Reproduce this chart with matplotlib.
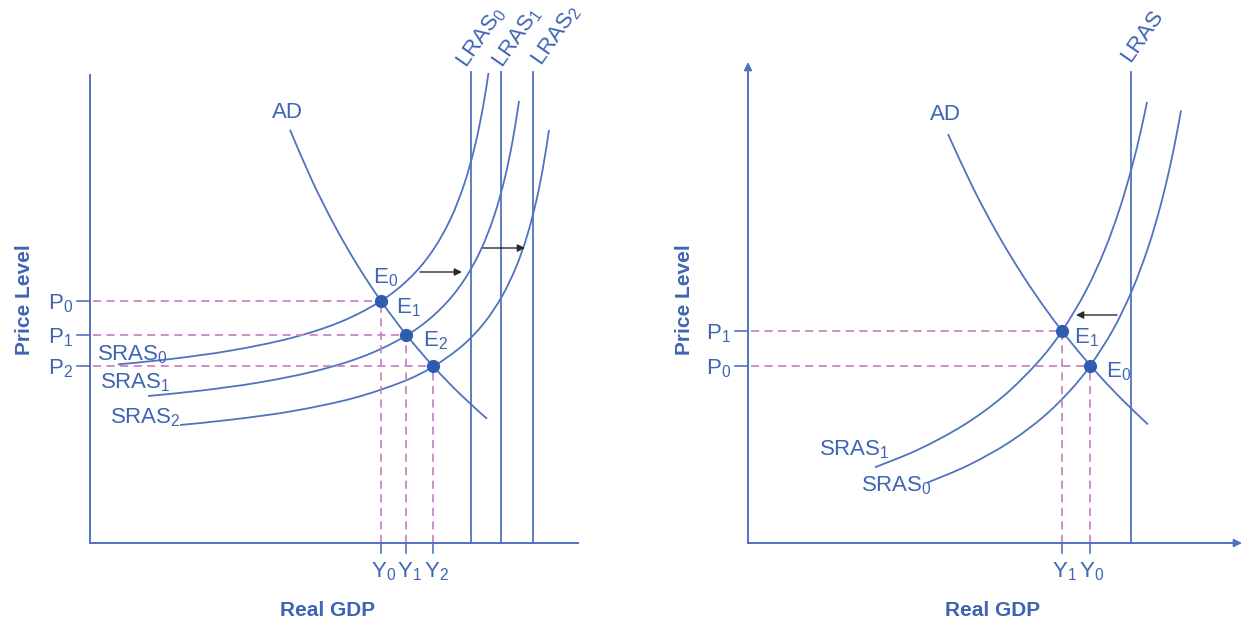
import numpy as np
import matplotlib
matplotlib.use("Agg")
import matplotlib.pyplot as plt
from matplotlib.path import Path
from matplotlib.patches import PathPatch

plt.rcParams['font.family'] = ['Liberation Sans', 'DejaVu Sans']
plt.rcParams['mathtext.fontset'] = 'custom'
plt.rcParams['mathtext.rm'] = 'Liberation Sans'
plt.rcParams['mathtext.it'] = 'Liberation Sans'
plt.rcParams['mathtext.bf'] = 'Liberation Sans:bold'

BLUE = '#5073c0'
TXT = '#3e64b4'
DOT = '#2e5cb0'
PINK = '#c888c4'
ARROW = '#2a2a2a'

# ---------------- Left panel data (units: Real GDP / Price Level) -------------
ad_l_x = [200, 222, 245, 268, 291, 316, 343, 370, 397]
ad_l_y = [413.2, 362.5, 316.7, 276.9, 242.0, 208.6, 176.9, 149.0, 124.2]
sras0_l_x = [28, 80, 140, 200, 250, 291, 320, 342, 360, 374, 385, 393, 398.5]
sras0_l_y = [178.6, 183.9, 192.3, 204.7, 220.9, 242.0, 265.2, 291.4, 322.9,
             358.2, 397.3, 436.0, 470.1]
sras1_l_x = [58, 110, 170, 230, 280, 321, 350, 372, 390, 404, 415, 423, 429]
sras1_l_y = [147.0, 152.3, 160.7, 173.1, 189.3, 210.4, 233.6, 259.8, 291.3,
             326.6, 365.7, 404.4, 442.0]
sras2_l_x = [90, 142, 202, 262, 312, 343, 372, 394, 412, 426, 437, 446, 453, 459]
sras2_l_y = [118.0, 123.4, 131.8, 144.5, 161.0, 176.3, 197.0, 219.9, 246.7,
             275.8, 306.9, 340.9, 375.3, 412.9]
lras_l_x = [381, 411, 443]
lras_l_labels = ['LRAS$_0$', 'LRAS$_1$', 'LRAS$_2$']
eq_l_x = [291, 316, 343]
eq_l_y = [242, 208, 177]
eq_l_labels = ['E$_0$', 'E$_1$', 'E$_2$']
p_l_labels = ['P$_0$', 'P$_1$', 'P$_2$']
y_l_labels = ['Y$_0$', 'Y$_1$', 'Y$_2$']
sras_l_labels = ['SRAS$_0$', 'SRAS$_1$', 'SRAS$_2$']

# ---------------- Right panel data -------------
ad_r_x = [200, 225, 250, 275, 300, 325, 350, 375, 400]
ad_r_y = [408.9, 355.2, 308.4, 267.2, 230.7, 198.2, 168.9, 142.5, 118.6]
sras1_r_x = [127, 170, 215, 255, 290, 314, 338, 357, 372, 384, 393, 399]
sras1_r_y = [75.7, 93.3, 117.5, 146.5, 181.0, 212.0, 252.3, 293.8, 335.3,
             376.2, 412.9, 441.0]
sras0_r_x = [179, 220, 260, 295, 322, 342, 365, 384, 400, 412, 421, 428, 433]
sras0_r_y = [60.2, 77.6, 99.9, 125.9, 152.3, 177.0, 213.2, 252.5, 295.1,
             335.4, 372.0, 405.4, 432.6]
lras_r_x = 383
eq_r_x = [314, 342]
eq_r_y = [212, 177.5]
eq_r_labels = ['E$_1$', 'E$_0$']
p_r_labels = ['P$_1$', 'P$_0$']
y_r_labels = ['Y$_1$', 'Y$_0$']
sras_r_labels = ['SRAS$_1$', 'SRAS$_0$']

FS = 16
FSB = 15


def smooth(ax, xs, ys, color=BLUE, lw=1.3):
    pts = np.column_stack([xs, ys]).astype(float)
    n = len(pts)
    verts = [pts[0]]
    codes = [Path.MOVETO]
    for i in range(n - 1):
        p0 = pts[i - 1] if i > 0 else pts[i]
        p1 = pts[i]
        p2 = pts[i + 1]
        p3 = pts[i + 2] if i + 2 < n else pts[i + 1]
        c1 = p1 + (p2 - p0) / 6.0
        c2 = p2 - (p3 - p1) / 6.0
        verts += [c1, c2, p2]
        codes += [Path.CURVE4] * 3
    ax.add_patch(PathPatch(Path(verts, codes), fill=False, edgecolor=color,
                           lw=lw, capstyle='butt'))


def equilibria(ax, xs, ys):
    for x, y in zip(xs, ys):
        ax.plot([3, x], [y, y], color=PINK, lw=1.3, ls=(0, (4.5, 3)), zorder=1)
        ax.plot([x, x], [0, y], color=PINK, lw=1.3, ls=(0, (4.5, 3)), zorder=1)
        ax.plot([-13, 0], [y, y], color=BLUE, lw=1.2, zorder=2)
        ax.plot([x, x], [-10, 0], color=BLUE, lw=1.2, zorder=2)
    ax.plot(xs, ys, 'o', color=DOT, ms=9.5, zorder=5, mec='none')


def arrow(ax, start, end, color=ARROW, lw=1.0, ms=11):
    ax.annotate('', xy=end, xytext=start,
                arrowprops=dict(arrowstyle='-|>', color=color, lw=lw,
                                mutation_scale=ms, shrinkA=0, shrinkB=0))


fig = plt.figure(figsize=(12.43, 6.21), dpi=100)
axL = fig.add_axes([0, 0, 640 / 1243, 1])
axR = fig.add_axes([640 / 1243, 0, 603 / 1243, 1])
axL.set_xlim(-90, 550)
axL.set_ylim(-78, 543)
axR.set_xlim(-108, 495)
axR.set_ylim(-78, 543)
for ax in (axL, axR):
    ax.axis('off')

# ---------- Left ----------
ax = axL
ax.plot([0, 0], [0, 468], color=BLUE, lw=1.4)
ax.plot([0, 488], [0, 0], color=BLUE, lw=1.4)
for x in lras_l_x:
    ax.plot([x, x], [0, 471], color=BLUE, lw=1.3)
smooth(ax, ad_l_x, ad_l_y)
smooth(ax, sras0_l_x, sras0_l_y)
smooth(ax, sras1_l_x, sras1_l_y)
smooth(ax, sras2_l_x, sras2_l_y)
equilibria(ax, eq_l_x, eq_l_y)

ax.text(197, 431, 'AD', color=TXT, fontsize=FS, ha='center', va='center')
for (x, y), lab in zip([(283, 265), (306, 235), (333, 202)], eq_l_labels):
    ax.text(x, y, lab, color=TXT, fontsize=FS, ha='left', va='center')
for y, lab in zip(eq_l_y, p_l_labels):
    ax.text(-17, y - 3, lab, color=TXT, fontsize=FS, ha='right', va='center')
for x, lab in zip(eq_l_x, y_l_labels):
    ax.text(x + 3, -29, lab, color=TXT, fontsize=FS, ha='center', va='center')
for (x, y), lab in zip([(7, 188), (10, 160), (20, 125)], sras_l_labels):
    ax.text(x, y, lab, color=TXT, fontsize=FS, ha='left', va='center')
for (x, y), lab in zip([(391, 505), (427, 505), (466, 507)], lras_l_labels):
    ax.text(x, y, lab, color=TXT, fontsize=FS, ha='center', va='center',
            rotation=55)
arrow(ax, (330, 271), (372, 271))
arrow(ax, (393, 295), (435, 295))
ax.text(-65, 243, 'Price Level', color=TXT, fontsize=FSB, fontweight='bold',
        rotation=90, ha='center', va='center')
ax.text(238, -67, 'Real GDP', color=TXT, fontsize=FSB, fontweight='bold',
        ha='center', va='center')

# ---------- Right ----------
ax = axR
ax.plot([0, 0], [0, 470], color=BLUE, lw=1.4)
ax.plot([0, 484], [0, 0], color=BLUE, lw=1.4)
arrow(ax, (0, 466), (0, 481), color=BLUE, lw=1.2, ms=12)
arrow(ax, (479, 0), (494, 0), color=BLUE, lw=1.2, ms=12)
ax.plot([lras_r_x, lras_r_x], [0, 471], color=BLUE, lw=1.3)
smooth(ax, ad_r_x, ad_r_y)
smooth(ax, sras1_r_x, sras1_r_y)
smooth(ax, sras0_r_x, sras0_r_y)
equilibria(ax, eq_r_x, eq_r_y)

ax.text(197, 428, 'AD', color=TXT, fontsize=FS, ha='center', va='center')
for (x, y), lab in zip([(326, 205), (358, 171)], eq_r_labels):
    ax.text(x, y, lab, color=TXT, fontsize=FS, ha='left', va='center')
for y, lab in zip(eq_r_y, p_r_labels):
    ax.text(-17, y - 3, lab, color=TXT, fontsize=FS, ha='right', va='center')
for x, lab in zip(eq_r_x, y_r_labels):
    ax.text(x + 2, -29, lab, color=TXT, fontsize=FS, ha='center', va='center')
for (x, y), lab in zip([(71, 93), (113, 57)], sras_r_labels):
    ax.text(x, y, lab, color=TXT, fontsize=FS, ha='left', va='center')
ax.text(394, 507, 'LRAS', color=TXT, fontsize=FS, ha='center', va='center',
        rotation=55)
arrow(ax, (369, 228), (328, 228))
ax.text(-63, 243, 'Price Level', color=TXT, fontsize=FSB, fontweight='bold',
        rotation=90, ha='center', va='center')
ax.text(245, -67, 'Real GDP', color=TXT, fontsize=FSB, fontweight='bold',
        ha='center', va='center')

fig.savefig('out.png', dpi=100, facecolor='white')
